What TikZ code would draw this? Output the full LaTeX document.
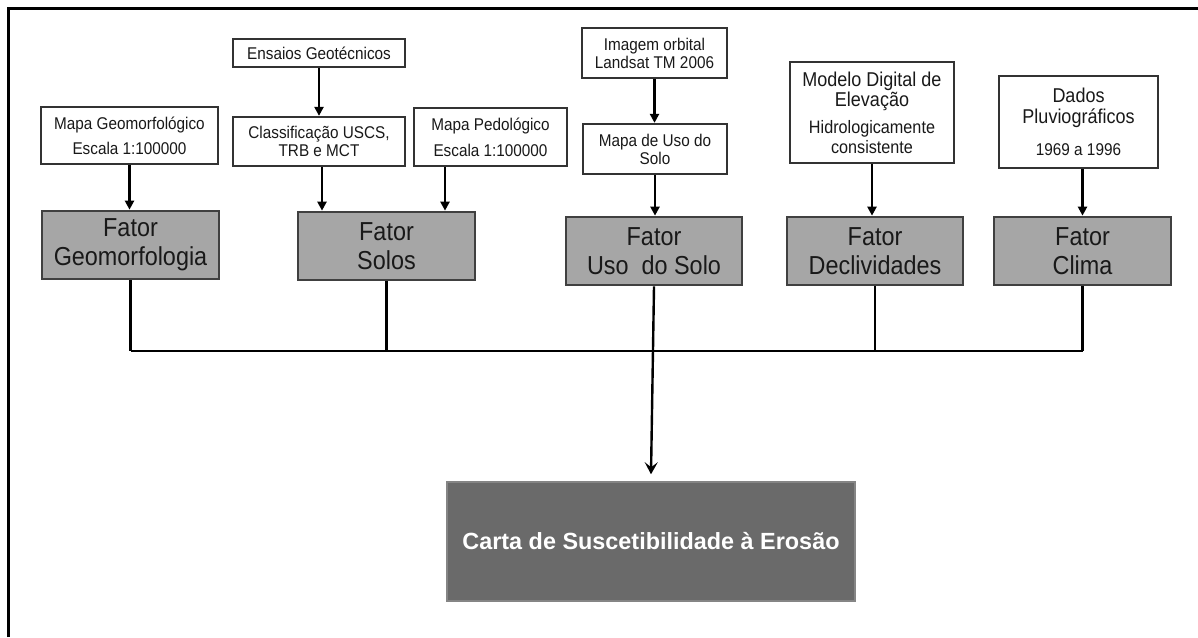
\documentclass[tikz,border=0pt]{standalone}
\usepackage{fontspec}
\setmainfont{Liberation Sans}
\newfontfamily\cnd{Liberation Sans}[FakeStretch=0.9]
\usetikzlibrary{arrows.meta,calc}
\definecolor{srcborder}{HTML}{333333}
\definecolor{fatfill}{HTML}{A6A6A6}
\definecolor{fatborder}{HTML}{404040}
\definecolor{cartafill}{HTML}{6A6A6A}
\definecolor{cartaborder}{HTML}{858585}
\begin{document}
\begin{tikzpicture}[x=1pt,y=-1pt,
 src/.style={draw=srcborder,line width=2.3pt,fill=white,inner sep=0pt,align=center,text=black!90,font=\cnd\fontsize{17}{18}\selectfont},
 fator/.style={draw=fatborder,line width=2.7pt,fill=fatfill,inner sep=0pt,align=center,text=black!90,font=\cnd\fontsize{26}{29}\selectfont},
 cartabox/.style={draw=cartaborder,line width=1.5pt,fill=cartafill,inner sep=0pt,text=white,font=\bfseries\fontsize{23.4}{28}\selectfont},
 conn/.style={line width=2.4pt,draw=black},
 arr/.style={conn,-{Triangle[length=9pt,width=9pt]}},
 bigarr/.style={conn,-{Stealth[length=12pt,width=13pt,inset=5pt]}},
]
\useasboundingbox (0,0) rectangle (1198,637);
\draw[line width=2.7pt] (8.7,637) -- (8.7,8.7) -- (1198,8.7);

% source boxes
\node[src,minimum width=177pt,minimum height=57pt] (geomap) at (129.5,135.5) {Mapa Geomorfológico\\[7pt]Escala 1:100000};
\node[src,minimum width=172pt,minimum height=28pt] (ensaios) at (319,53) {Ensaios Geotécnicos};
\node[src,minimum width=172pt,minimum height=49pt] (classif) at (319,141.5) {Classificação USCS,\\TRB e MCT};
\node[src,minimum width=153pt,minimum height=58pt] (pedo) at (490.5,137) {Mapa Pedológico\\[8pt]Escala 1:100000};
\node[src,minimum width=145pt,minimum height=50pt] (imagem) at (654.5,53) {Imagem orbital\\Landsat TM 2006};
\node[src,minimum width=144pt,minimum height=50pt] (mapauso) at (655,149) {Mapa de Uso do\\Solo};
\node[src,minimum width=164pt,minimum height=101pt,font=\cnd\fontsize{20}{20}\selectfont] (modelo) at (872,112.5)
  {Modelo Digital de\\Elevação\\[7pt]\fontsize{18}{19}\selectfont Hidrologicamente\\\fontsize{18}{19}\selectfont consistente};
\node[src,minimum width=159pt,minimum height=92pt,font=\cnd\fontsize{20}{21}\selectfont] (dados) at (1078.5,122)
  {Dados\\Pluviográficos\\[11pt]\fontsize{17}{18}\selectfont 1969 a 1996};

% fator boxes
\node[fator,minimum width=177pt,minimum height=68pt] (fgeo) at (130.5,245) {Fator\\Geomorfologia};
\node[fator,minimum width=177pt,minimum height=68pt] (fsolos) at (386.5,246) {Fator\\Solos};
\node[fator,minimum width=176pt,minimum height=68pt] (fuso) at (654,251) {Fator\\Uso\ \ do Solo};
\node[fator,minimum width=176pt,minimum height=68pt] (fdecl) at (875,251) {Fator\\Declividades};
\node[fator,minimum width=177pt,minimum height=68pt] (fclima) at (1082.5,251) {Fator\\Clima};

% result
\node[cartabox,minimum width=408pt,minimum height=119pt] (carta) at (651,541.5) {Carta de Suscetibilidade à Erosão};

% arrows into factors
\coordinate (cx1) at (322,0);
\coordinate (cx2) at (445,0);
\coordinate (busy) at (0,351);
\draw[arr] (geomap.south) -- (geomap.south |- fgeo.north);
\draw[arr] (ensaios.south) -- (classif.north);
\draw[arr] (classif.south -| cx1) -- (fsolos.north -| cx1);
\draw[arr] (pedo.south -| cx2) -- (fsolos.north -| cx2);
\draw[arr] (imagem.south) -- (imagem.south |- mapauso.north);
\draw[arr] (mapauso.south) -- (mapauso.south |- fuso.north);
\draw[arr] (modelo.south) -- (modelo.south |- fdecl.north);
\draw[arr] (dados.south -| fclima.north) -- (fclima.north);

% bus
\draw[conn,line width=3.4pt] (fgeo.south) -- (fgeo.south |- busy);
\draw[conn] (fgeo.south |- busy) -- (fclima.south |- busy);
\draw[conn] (fsolos.south) -- (fsolos.south |- busy);
\draw[conn] (fdecl.south) -- (fdecl.south |- busy);
\draw[conn] (fclima.south) -- (fclima.south |- busy);
\draw[bigarr] (fuso.south) -- ([yshift=7pt]carta.north);
\end{tikzpicture}
\end{document}
